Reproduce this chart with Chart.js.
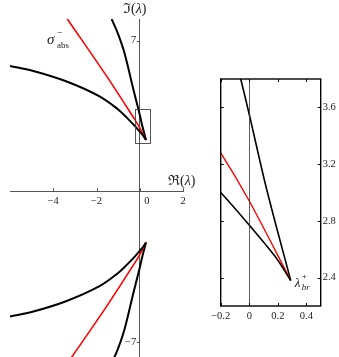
<!DOCTYPE html>
<html><head><meta charset="utf-8">
<script src="https://cdn.jsdelivr.net/npm/chart.js@4/dist/chart.umd.min.js"></script>
<style>
html,body{margin:0;padding:0;background:#fff;}
body{width:339px;height:357px;overflow:hidden;position:relative;}
#mainWrap{position:absolute;left:0;top:0;width:200px;height:357px;}
#insetWrap{position:absolute;left:200px;top:60px;width:139px;height:266px;}
</style></head>
<body>
<div id="mainWrap"><canvas id="main"></canvas></div>
<div id="insetWrap"><canvas id="inset"></canvas></div>
<script>
// ---- data ----
// upper half (Im > 0)
const shallowUpX = [0.29, 0.18, 0.00, -0.20, -0.60, -1.00, -1.86, -3.41, -4.96, -6.00];
const shallowUpY = [2.38, 2.55, 2.77, 3.00, 3.42, 3.80, 4.41, 5.11, 5.60, 5.82];
const redUpX = [0.29, 0.00, -0.20, -1.50, -3.35];
const redUpY = [2.38, 2.94, 3.28, 5.30, 8.00];
const steepUpX = [0.29, 0.12, 0.00, -0.06, -0.30, -0.70, -1.00, -1.30];
const steepUpY = [2.38, 3.03, 3.55, 3.80, 4.75, 6.40, 7.30, 8.00];
// lower half (Im < 0)
const shallowLoX = [0.29, 0.18, 0.00, -0.20, -0.60, -1.00, -1.86, -3.41, -4.96, -6.00];
const shallowLoY = [-2.38, -2.55, -2.77, -3.00, -3.42, -3.80, -4.41, -5.11, -5.60, -5.82];
const redLoX = [0.29, 0.00, -0.20, -1.50, -3.35];
const redLoY = [-2.38, -2.94, -3.28, -5.30, -8.00];
const steepLoX = [0.29, 0.12, 0.00, -0.06, -0.30, -0.70, -1.00, -1.30];
const steepLoY = [-2.38, -3.03, -3.55, -3.80, -4.75, -6.40, -7.30, -8.00];

const mainXTicks = [-4, -2, 0, 2];
const mainXTickLabels = ['\u22124', '\u22122', '\u2003\u20040', '2'];
const mainYTicks = [-7, 7];
const mainYTickLabels = ['\u22127\u2004', '7\u2004'];
const insetXTicks = [-0.2, 0, 0.2, 0.4];
const insetXTickLabels = ['\u22120.2', '0', '0.2', '0.4'];
const insetYTicks = [2.4, 2.8, 3.2, 3.6];
const insetYTickLabels = ['2.4', '2.8', '3.2', '3.6'];
const zoomXRange = [-0.2, 0.5];
const zoomYRange = [2.2, 3.8];
const branchPoint = [0.29, 2.38];

const SERIF = "'Liberation Serif','DejaVu Serif',serif";
Chart.defaults.font.family = SERIF;
Chart.defaults.color = '#222';

function pts(xs, ys){ return xs.map((x,i)=>({x:x, y:ys[i]})); }
function ds(xs, ys, color, w){
  return {data: pts(xs, ys), borderColor: color, borderWidth: w, showLine: true,
          pointRadius: 0, tension: 0.35, fill: false};
}
function noPad(s){ s.paddingTop = 0; s.paddingBottom = 0; s.paddingLeft = 0; s.paddingRight = 0; }

// ---------- main chart ----------
const mainDecor = {
  id: 'mainDecor',
  afterDraw(chart){
    const ctx = chart.ctx, sx = chart.scales.x, sy = chart.scales.y;
    const x0 = sx.getPixelForValue(0), y0 = sy.getPixelForValue(0);
    ctx.save();
    ctx.strokeStyle = '#555'; ctx.lineWidth = 1;
    // tick marks
    ctx.beginPath();
    mainXTicks.forEach(v=>{ const p = Math.round(sx.getPixelForValue(v))+0.5; ctx.moveTo(p, y0); ctx.lineTo(p, y0-3); });
    mainYTicks.forEach(v=>{ const p = Math.round(sy.getPixelForValue(v))+0.5; ctx.moveTo(x0, p); ctx.lineTo(x0-3, p); });
    ctx.stroke();
    // zoom rectangle
    const rx1 = sx.getPixelForValue(zoomXRange[0]), rx2 = sx.getPixelForValue(zoomXRange[1]);
    const ry1 = sy.getPixelForValue(zoomYRange[1]), ry2 = sy.getPixelForValue(zoomYRange[0]);
    ctx.strokeStyle = '#444'; ctx.lineWidth = 0.9;
    ctx.strokeRect(Math.round(rx1)+0.5, Math.round(ry1)+0.5, Math.round(rx2-rx1), Math.round(ry2-ry1));
    // axis titles
    ctx.fillStyle = '#222'; ctx.textBaseline = 'alphabetic'; ctx.textAlign = 'left';
    function title(tx, ty, sym){
      ctx.font = '14px ' + SERIF; ctx.fillText(sym + '(', tx, ty);
      const w = ctx.measureText(sym + '(').width;
      ctx.font = 'italic 14px ' + SERIF; ctx.fillText('\u03bb', tx + w, ty);
      const w2 = ctx.measureText('\u03bb').width;
      ctx.font = '14px ' + SERIF; ctx.fillText(')', tx + w + w2, ty);
    }
    title(123, 13, '\u2111');
    title(168, 185, '\u211c');
    // sigma label
    ctx.font = 'italic 15px ' + SERIF;
    ctx.fillText('\u03c3', 47, 44);
    ctx.font = '10px ' + SERIF;
    ctx.fillText('\u2212', 57, 36);
    ctx.font = '9px ' + SERIF;
    ctx.fillText('abs', 57, 48);
    ctx.restore();
  }
};

new Chart(document.getElementById('main'), {
  type: 'scatter',
  data: { datasets: [
    ds(shallowUpX, shallowUpY, '#000', 2),
    ds(redUpX, redUpY, '#ff0000', 1.6),
    ds(steepUpX, steepUpY, '#000', 2),
    ds(shallowLoX, shallowLoY, '#000', 2),
    ds(redLoX, redLoY, '#ff0000', 1.6),
    ds(steepLoX, steepLoY, '#000', 2)
  ]},
  options: {
    responsive: true, maintainAspectRatio: false, animation: false,
    layout: { padding: { left: 10, right: 17, top: 19, bottom: 0 } },
    plugins: { legend: {display:false}, tooltip: {enabled:false} },
    scales: {
      x: {
        type: 'linear', min: -6, max: 2, position: { y: 0 },
        grid: { display: false, drawTicks: false, tickLength: 0 },
        border: { display: true, color: '#555', width: 1 },
        afterBuildTicks: s => { s.ticks = mainXTicks.map(v=>({value:v})); },
        afterFit: s => { s.height = 0; noPad(s); },
        ticks: { padding: 4, font: { size: 10.5 }, color: '#222', autoSkip: false, maxRotation: 0,
                 callback: (v, i) => mainXTickLabels[i] }
      },
      y: {
        type: 'linear', min: -7.7, max: 8, position: { x: 0 },
        grid: { display: false, drawTicks: false, tickLength: 0 },
        border: { display: true, color: '#555', width: 1 },
        afterBuildTicks: s => { s.ticks = mainYTicks.map(v=>({value:v})); },
        afterFit: s => { s.width = 0; noPad(s); },
        ticks: { padding: 4, font: { size: 10.5 }, color: '#222', autoSkip: false,
                 callback: (v, i) => mainYTickLabels[i] }
      }
    }
  },
  plugins: [mainDecor]
});

// ---------- inset chart ----------
const insetDecor = {
  id: 'insetDecor',
  afterDraw(chart){
    const ctx = chart.ctx, sx = chart.scales.x, sy = chart.scales.y, a = chart.chartArea;
    ctx.save();
    // x = 0 line
    const x0 = Math.round(sx.getPixelForValue(0)) + 0.5;
    ctx.strokeStyle = '#333'; ctx.lineWidth = 0.8;
    ctx.beginPath(); ctx.moveTo(x0, a.top); ctx.lineTo(x0, a.bottom); ctx.stroke();
    // inward tick marks on all sides
    ctx.strokeStyle = '#000'; ctx.lineWidth = 1;
    ctx.beginPath();
    insetXTicks.forEach(v=>{ const p = Math.round(sx.getPixelForValue(v))+0.5;
      ctx.moveTo(p, a.bottom); ctx.lineTo(p, a.bottom-3); ctx.moveTo(p, a.top); ctx.lineTo(p, a.top+3); });
    insetYTicks.forEach(v=>{ const p = Math.round(sy.getPixelForValue(v))+0.5;
      ctx.moveTo(a.left, p); ctx.lineTo(a.left+3, p); ctx.moveTo(a.right, p); ctx.lineTo(a.right-3, p); });
    ctx.stroke();
    // box
    ctx.lineWidth = 1.4; ctx.strokeStyle = '#000';
    ctx.strokeRect(a.left, a.top, a.right - a.left, a.bottom - a.top);
    // branch label
    const bx = sx.getPixelForValue(branchPoint[0]), by = sy.getPixelForValue(branchPoint[1]);
    ctx.fillStyle = '#222'; ctx.textAlign = 'left'; ctx.textBaseline = 'alphabetic';
    ctx.font = 'italic 13px ' + SERIF;
    ctx.fillText('\u03bb', bx + 4, by + 7);
    ctx.font = '9px ' + SERIF;
    ctx.fillText('+', bx + 11, by - 1);
    ctx.font = 'italic 9px ' + SERIF;
    ctx.fillText('br', bx + 11, by + 10);
    ctx.restore();
  }
};

new Chart(document.getElementById('inset'), {
  type: 'scatter',
  data: { datasets: [
    ds(shallowUpX, shallowUpY, '#000', 1.6),
    ds(redUpX, redUpY, '#ff0000', 1.4),
    ds(steepUpX, steepUpY, '#000', 1.6)
  ]},
  options: {
    responsive: true, maintainAspectRatio: false, animation: false,
    layout: { padding: { left: 20.7, right: 0, top: 19, bottom: 0 } },
    plugins: { legend: {display:false}, tooltip: {enabled:false} },
    scales: {
      x: {
        type: 'linear', min: zoomXRange[0], max: zoomXRange[1], position: 'bottom',
        grid: { display: false, drawTicks: false, tickLength: 0 }, border: { display: false },
        afterBuildTicks: s => { s.ticks = insetXTicks.map(v=>({value:v})); },
        afterFit: s => { s.height = 20; },
        ticks: { padding: 4, font: { size: 10.5 }, color: '#222', autoSkip: false, maxRotation: 0,
                 callback: (v, i) => insetXTickLabels[i] }
      },
      y: {
        type: 'linear', min: zoomYRange[0], max: zoomYRange[1], position: 'right',
        grid: { display: false, drawTicks: false, tickLength: 0 }, border: { display: false },
        afterBuildTicks: s => { s.ticks = insetYTicks.map(v=>({value:v})); },
        afterFit: s => { s.width = 18.3; },
        ticks: { padding: 2, font: { size: 10.5 }, color: '#222', autoSkip: false,
                 callback: (v, i) => insetYTickLabels[i] }
      }
    }
  },
  plugins: [insetDecor]
});
</script>
</body></html>
